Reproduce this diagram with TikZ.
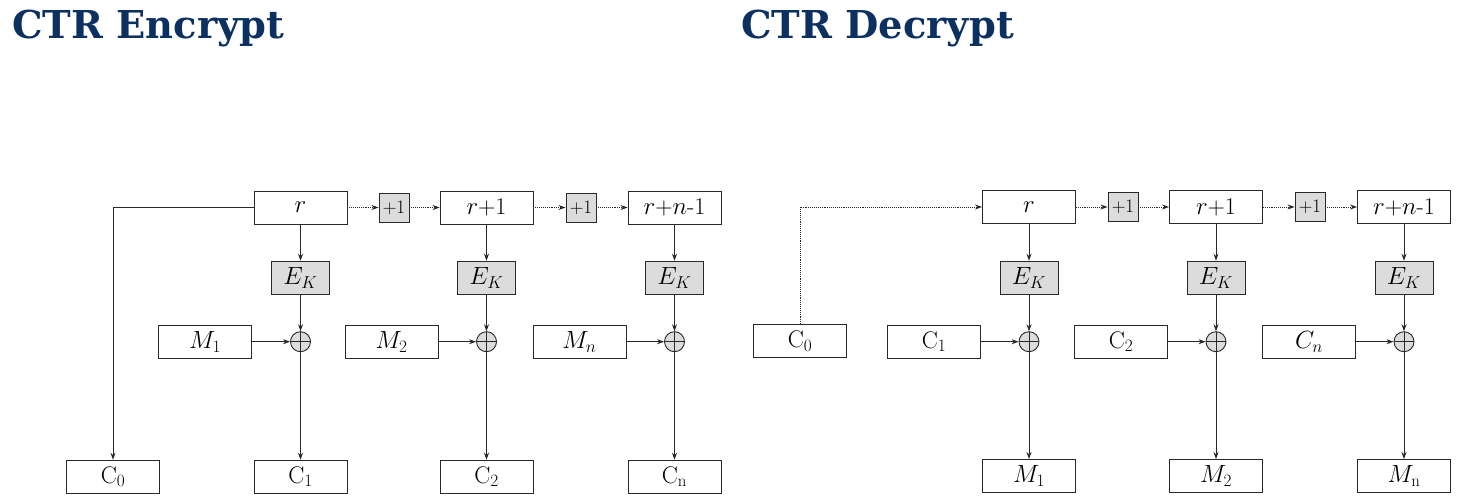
\documentclass[tikz,border=0pt]{standalone}
\usepackage{fontspec}
\newfontfamily\titlefont{DejaVu Serif}
\usetikzlibrary{arrows.meta}
\definecolor{navy}{RGB}{12,48,96}
\definecolor{ln}{RGB}{40,40,40}
\definecolor{boxgray}{RGB}{220,220,220}
\begin{document}
\begin{tikzpicture}[x=1pt,y=-1pt,
  every node/.style={font=\fontsize{24}{26}\selectfont},
  blk/.style={draw=ln, line width=0.9pt, fill=white, minimum width=93pt, minimum height=33pt, inner sep=0pt},
  ekbox/.style={draw=ln, line width=0.9pt, fill=boxgray, minimum width=58pt, minimum height=33pt, inner sep=0pt},
  incbox/.style={draw=ln, line width=0.9pt, fill=boxgray, minimum width=30pt, minimum height=29pt, inner sep=0pt, font=\fontsize{19}{20}\selectfont},
  xorc/.style={circle, draw=ln, line width=0.9pt, fill=boxgray, minimum size=20pt, inner sep=0pt,
    path picture={\draw[ln, line width=0.9pt] (path picture bounding box.north) -- (path picture bounding box.south)
      (path picture bounding box.west) -- (path picture bounding box.east);}},
  ttl/.style={font=\titlefont\bfseries\fontsize{38.4}{40}\selectfont, text=navy, anchor=base west, inner sep=0pt},
  con/.style={draw=ln, line width=0.9pt, -{Stealth[length=7pt,width=5pt]}},
  dcon/.style={con, densely dotted}
]
\useasboundingbox (0,0) rectangle (1462,501);

\node[ttl] (t1) at (12,38) {CTR Encrypt};
\node[ttl] (t2) at (741,38) {CTR Decrypt};

% ---------- Encrypt ----------
\node[blk] (er1) at (300.5,207.5) {$r$};
\node[incbox] (ep1) at (394,207.5) {+1};
\node[blk] (er2) at (486.5,207.5) {$r$+1};
\node[incbox] (ep2) at (581,207.5) {+1};
\node[blk] (er3) at (674.5,207.5) {$r$+$n$-1};

\node[ekbox] (ee1) at (300.5,277.7) {$E_K$};
\node[ekbox] (ee2) at (486.5,277.7) {$E_K$};
\node[ekbox] (ee3) at (674.5,277.7) {$E_K$};

\node[xorc] (ex1) at (300.5,341.7) {};
\node[xorc] (ex2) at (486.5,341.7) {};
\node[xorc] (ex3) at (674.5,341.7) {};

\node[blk] (em1) at (205,341.7) {$M_1$};
\node[blk] (em2) at (391.5,341.7) {$M_2$};
\node[blk] (em3) at (579.5,341.7) {$M_n$};

\node[blk] (ec0) at (113,476.7) {C$_0$};
\node[blk] (ec1) at (300.5,476.7) {C$_1$};
\node[blk] (ec2) at (486.5,476.7) {C$_2$};
\node[blk] (ec3) at (674.5,476.7) {C$_\mathrm{n}$};

\draw[dcon] (er1) -- (ep1);
\draw[dcon] (ep1) -- (er2);
\draw[dcon] (er2) -- (ep2);
\draw[dcon] (ep2) -- (er3);
\draw[con] (er1.west) -| (ec0.north);
\foreach \i in {1,2,3}{
  \draw[con] (er\i) -- (ee\i);
  \draw[con] (ee\i) -- (ex\i);
  \draw[con] (em\i) -- (ex\i);
  \draw[con] (ex\i) -- (ec\i);
}

% ---------- Decrypt ----------
\node[blk] (dr1) at (1029,207) {$r$};
\node[incbox] (dp1) at (1123,207) {+1};
\node[blk] (dr2) at (1216,207) {$r$+1};
\node[incbox] (dp2) at (1310,207) {+1};
\node[blk] (dr3) at (1404,207) {$r$+$n$-1};

\node[ekbox] (de1) at (1029,277.7) {$E_K$};
\node[ekbox] (de2) at (1216,277.7) {$E_K$};
\node[ekbox] (de3) at (1404,277.7) {$E_K$};

\node[xorc] (dx1) at (1029,341.7) {};
\node[xorc] (dx2) at (1216,341.7) {};
\node[xorc] (dx3) at (1404,341.7) {};

\node[blk] (dc0) at (800,341) {C$_0$};
\node[blk] (dc1) at (934,341.7) {C$_1$};
\node[blk] (dc2) at (1121,341.7) {C$_2$};
\node[blk] (dc3) at (1309,341.7) {$C_n$};

\node[blk] (dm1) at (1029,476) {$M_1$};
\node[blk] (dm2) at (1216,476) {$M_2$};
\node[blk] (dm3) at (1404,476) {$M_\mathrm{n}$};

\draw[dcon] (dc0.north) |- (dr1.west);
\draw[dcon] (dr1) -- (dp1);
\draw[dcon] (dp1) -- (dr2);
\draw[dcon] (dr2) -- (dp2);
\draw[dcon] (dp2) -- (dr3);
\foreach \i in {1,2,3}{
  \draw[con] (dr\i) -- (de\i);
  \draw[con] (de\i) -- (dx\i);
  \draw[con] (dc\i) -- (dx\i);
  \draw[con] (dx\i) -- (dm\i);
}
\end{tikzpicture}
\end{document}
